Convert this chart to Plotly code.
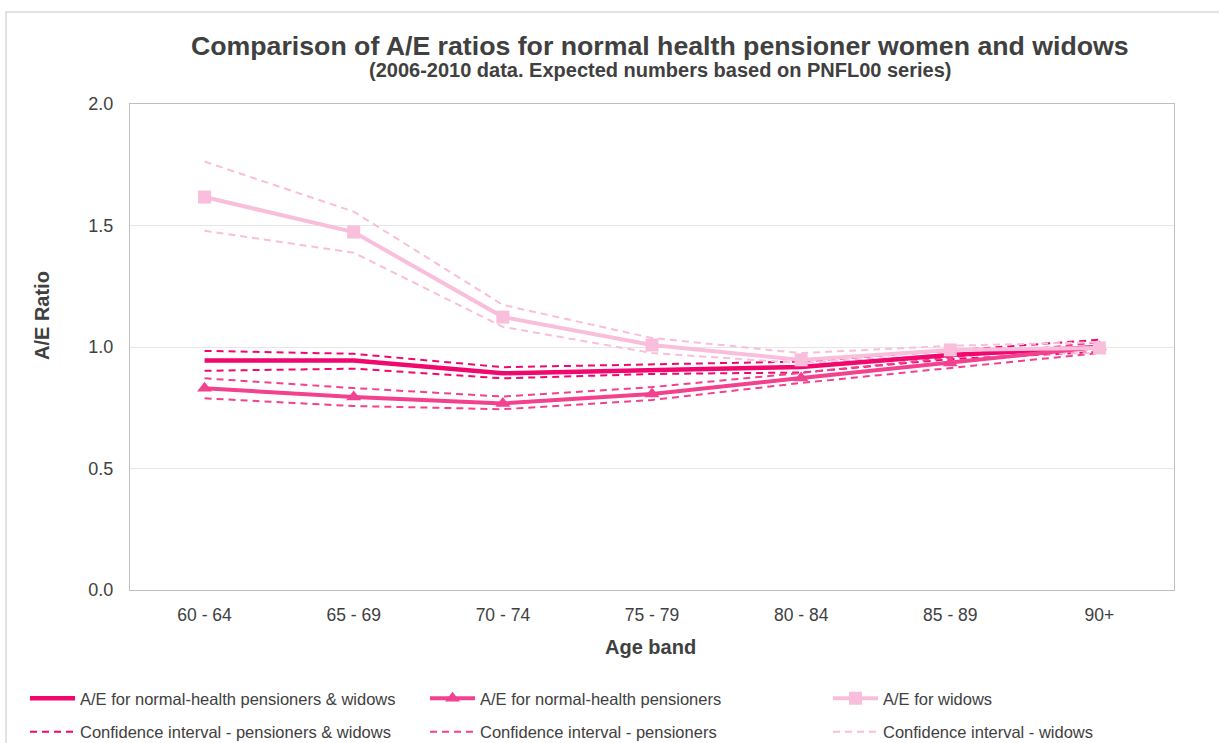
import plotly.graph_objects as go

# Age bands on the category axis
age_bands = ["60 - 64", "65 - 69", "70 - 74", "75 - 79", "80 - 84", "85 - 89", "90+"]

# A/E ratios - normal-health pensioners & widows combined
ae_combined = [0.944, 0.944, 0.892, 0.905, 0.918, 0.967, 1.000]
ci_combined_upper = [0.984, 0.972, 0.917, 0.930, 0.940, 0.985, 1.030]
ci_combined_lower = [0.902, 0.911, 0.871, 0.889, 0.895, 0.950, 0.980]

# A/E ratios - normal-health pensioners
ae_pensioners = [0.830, 0.794, 0.768, 0.807, 0.872, 0.934, 1.000]
ci_pensioners_upper = [0.871, 0.831, 0.796, 0.835, 0.893, 0.955, 1.020]
ci_pensioners_lower = [0.789, 0.757, 0.744, 0.782, 0.852, 0.915, 0.975]

# A/E ratios - widows
ae_widows = [1.617, 1.473, 1.123, 1.008, 0.947, 0.988, 0.996]
ci_widows_upper = [1.763, 1.557, 1.173, 1.037, 0.975, 1.005, 1.020]
ci_widows_lower = [1.478, 1.388, 1.083, 0.975, 0.934, 0.970, 0.975]

C_COMB = "#F0086E"
C_PENS = "#F2418E"
C_WID = "#F9BEDB"
TXT = "#404040"

# Figure geometry (pixels) used to place the legend columns and labels
W, H = 1219, 743
PL, PR, PT, PB = 130, 1174, 104, 590


def px_x(x):
    return (x - PL) / (PR - PL)


def px_y(y):
    return (PB - y) / (PB - PT)


DASH = "7px,5px"
fig = go.Figure()

series = [
    ("legend", "A/E for normal-health pensioners & widows", "Confidence interval - pensioners & widows",
     ae_combined, ci_combined_upper, ci_combined_lower, C_COMB, None),
    ("legend2", "A/E for normal-health pensioners", "Confidence interval - pensioners",
     ae_pensioners, ci_pensioners_upper, ci_pensioners_lower, C_PENS, "triangle-up"),
    ("legend3", "A/E for widows", "Confidence interval - widows",
     ae_widows, ci_widows_upper, ci_widows_lower, C_WID, "square"),
]

# dashed confidence bands first so the main lines sit on top
for leg, name, ci_name, main, upper, lower, color, sym in series:
    fig.add_trace(go.Scatter(x=age_bands, y=upper, mode="lines",
                             line=dict(color=color, width=2, dash=DASH),
                             name=ci_name, legend=leg, legendgroup=ci_name,
                             legendrank=2))
    fig.add_trace(go.Scatter(x=age_bands, y=lower, mode="lines",
                             line=dict(color=color, width=2, dash=DASH),
                             name=ci_name, legend=leg, legendgroup=ci_name,
                             showlegend=False))

for leg, name, ci_name, main, upper, lower, color, sym in series:
    if sym is None:
        fig.add_trace(go.Scatter(x=age_bands, y=main, mode="lines",
                                 line=dict(color=color, width=4.5),
                                 name=name, legend=leg, legendgroup=name, legendrank=1))
    else:
        fig.add_trace(go.Scatter(x=age_bands, y=main, mode="lines+markers",
                                 line=dict(color=color, width=4),
                                 marker=dict(symbol=sym, size=13, color=color),
                                 name=name, legend=leg, legendgroup=name, legendrank=1))

leg_common = dict(orientation="v", yanchor="top", y=px_y(681), xanchor="left",
                  font=dict(size=16.5, color=TXT), itemwidth=45, tracegroupgap=9,
                  traceorder="grouped", bgcolor="rgba(0,0,0,0)")

fig.update_layout(
    width=W, height=H,
    margin=dict(l=PL, r=W - PR, t=PT, b=H - PB, autoexpand=False),
    paper_bgcolor="white", plot_bgcolor="white",
    font=dict(family="Liberation Sans, Arial, sans-serif", color=TXT, size=16),
    xaxis=dict(
        range=[-0.5, len(age_bands) - 0.5],
        showgrid=False, showline=True, linecolor="#BFBFBF", linewidth=1, mirror=True,
        ticks="", tickfont=dict(size=17.5, color=TXT), ticklabelstandoff=9,
    ),
    yaxis=dict(
        range=[0, 2.0], dtick=0.5, tickformat=".1f",
        showgrid=True, gridcolor="#E6E6E6", gridwidth=1,
        showline=True, linecolor="#BFBFBF", linewidth=1, mirror=True,
        ticks="", tickfont=dict(size=18, color=TXT), zeroline=False,
        ticklabelstandoff=12,
    ),
    legend=dict(x=px_x(25), **leg_common),
    legend2=dict(x=px_x(425), **leg_common),
    legend3=dict(x=px_x(828), **leg_common),
    annotations=[
        dict(text="<b>Comparison of A/E ratios for normal health pensioner women and widows</b>",
             xref="paper", yref="paper", x=px_x(660), y=px_y(46),
             xanchor="center", yanchor="middle", showarrow=False,
             font=dict(size=26.7, color=TXT)),
        dict(text="<b>(2006-2010 data. Expected numbers based on PNFL00 series)</b>",
             xref="paper", yref="paper", x=px_x(660), y=px_y(70),
             xanchor="center", yanchor="middle", showarrow=False,
             font=dict(size=20, color=TXT)),
        dict(text="<b>A/E Ratio</b>", textangle=-90,
             xref="paper", yref="paper", x=px_x(42), y=px_y(316),
             xanchor="center", yanchor="middle", showarrow=False,
             font=dict(size=20, color=TXT)),
        dict(text="<b>Age band</b>",
             xref="paper", yref="paper", x=px_x(650), y=px_y(647),
             xanchor="center", yanchor="middle", showarrow=False,
             font=dict(size=20, color=TXT)),
    ],
    shapes=[dict(type="rect", xref="paper", yref="paper",
                 x0=px_x(6), x1=px_x(1240), y0=px_y(760), y1=px_y(12),
                 line=dict(color="#D9D9D9", width=1.5), fillcolor="rgba(0,0,0,0)",
                 layer="below")],
)

fig.write_html("out.html")
